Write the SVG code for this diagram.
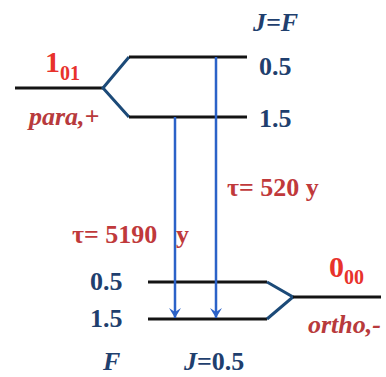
<svg xmlns="http://www.w3.org/2000/svg" width="386" height="377" viewBox="0 0 386 377">
<style>
text{font-family:'Liberation Serif','Times New Roman',serif}
.lvl{stroke:#141414;stroke-width:3;fill:none}
.br{stroke:#1c4a78;stroke-width:3;fill:none;stroke-linejoin:miter}
.arr{stroke:#2b62c8;stroke-width:2.5;fill:none}
.num{font-weight:bold;font-size:26px;fill:#1f3f6e}
.it{font-style:italic}
.red{font-weight:bold;fill:#e8322c}
.lab{font-weight:bold;font-style:italic;font-size:26px;fill:#b83a3c}
.tau{font-weight:bold;font-size:26px;fill:#c0393b}
</style>
<defs>
<marker id="ah" markerWidth="12" markerHeight="12" refX="11" refY="6" orient="auto" markerUnits="userSpaceOnUse" viewBox="0 0 12 12">
<path d="M1,0 L11,6 L1,12 L5,6 Z" fill="#2b62c8"/>
</marker>
</defs>
<g id="level-101">
<path class="lvl" d="M15,88 H103"/>
<path class="br" d="M129,57 L103,88 L129,117"/>
<path class="lvl" d="M129,57 H247"/>
<path class="lvl" d="M129,117 H247"/>
<text class="red" x="45" y="72" font-size="30">1<tspan font-size="20" dy="8">01</tspan></text>
<text class="lab" x="29" y="125">para,+</text>
<text class="num it" x="253" y="31">J=F</text>
<text class="num" x="259" y="75">0.5</text>
<text class="num" x="259" y="127">1.5</text>
</g>
<g id="level-000">
<path class="lvl" d="M148,282 H267"/>
<path class="lvl" d="M148,319 H267"/>
<path class="br" d="M267,282 L293,297 L267,319"/>
<path class="lvl" d="M293,297 H381"/>
<text class="red" x="329" y="277" font-size="30">0<tspan font-size="20" dy="7">00</tspan></text>
<text class="lab" x="308" y="333">ortho,-</text>
<text class="num" x="90" y="290">0.5</text>
<text class="num" x="90" y="327">1.5</text>
<text class="num it" x="103" y="370">F</text>
<text class="num" x="184" y="370"><tspan font-style="italic">J</tspan>=0.5</text>
</g>
<g id="connectors">
<path class="arr" d="M216,57 V318" marker-end="url(#ah)"/>
<path class="arr" d="M175,117 V318" marker-end="url(#ah)"/>
<text class="tau" x="227" y="196">τ= 520 y</text>
<text class="tau" x="72" y="243">τ= 5190 <tspan x="176">y</tspan></text>
</g>
</svg>
